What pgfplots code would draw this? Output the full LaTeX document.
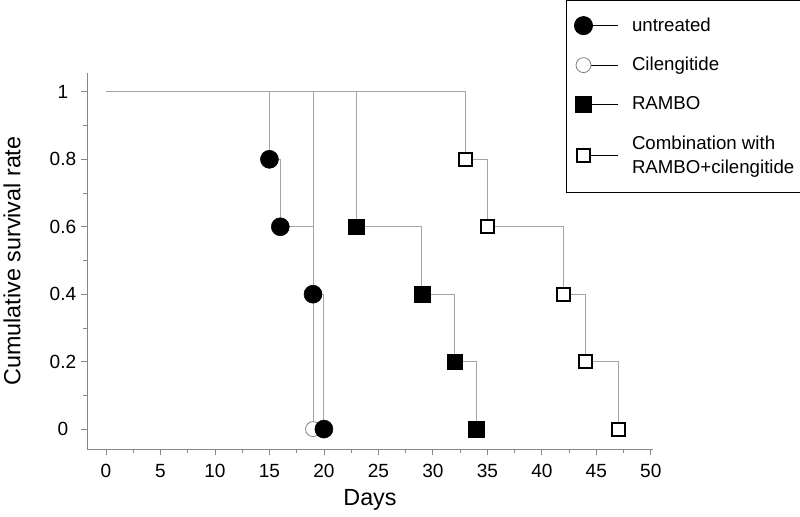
\documentclass[border=0pt]{standalone}
\usepackage{fontspec}
\setmainfont{Liberation Sans}
\usepackage{pgfplots}
\pgfplotsset{compat=1.18}
\usetikzlibrary{calc}
\definecolor{linegray}{RGB}{165,165,165}
\definecolor{axgray}{RGB}{135,135,135}
\begin{document}
\begin{tikzpicture}
\begin{axis}[
  name=ax,
  scale only axis, width=424.5pt, height=282pt,
  xmin=-1.74, xmax=50.2, ymin=-0.059, ymax=1.056,
  axis x line*=bottom, axis y line*=left,
  axis line style={axgray, line width=0.6pt},
  every tick/.style={axgray, line width=0.6pt},
  tick align=outside,
  major tick length=4.5pt, minor tick length=3pt,
  xtick={0,5,10,15,20,25,30,35,40,45,50}, minor x tick num=1,
  ytick={0,0.2,0.4,0.6,0.8,1}, minor y tick num=1,
  /pgf/number format/assume math mode=true,
  ticklabel style={font=\fontsize{14.3}{16}\selectfont, black},
  xticklabel style={yshift=-3.5pt},
  yticklabel style={anchor=center, xshift=-13.5pt},
  xlabel={Days}, ylabel={Cumulative survival rate},
  label style={font=\fontsize{17.5}{20}\selectfont},
  xlabel style={at={(axis description cs:0.5,-0.1356)}, anchor=center},
  ylabel style={at={(axis description cs:-0.1325,0.5)}, anchor=center},
  clip=false,
  legend image code/.code={\draw[black, line width=0.6pt] (0pt,0pt) -- (26pt,0pt); \path (34pt,0pt); \draw[#1] plot coordinates {(0pt,0pt)};},
  legend cell align=left,
  legend style={draw=black, line width=0.75pt, at={(axis description cs:0.8463,1.1941)}, anchor=north west,
    font=\fontsize{14}{18}\selectfont, nodes={align=left, line width=0.6pt}, row sep=14pt,
    inner xsep=6pt, inner ysep=11pt},
]
% step lines
\addplot[const plot, linegray, line width=0.75pt, forget plot] coordinates {(0,1) (19,0)};
\addplot[const plot, linegray, line width=0.75pt, forget plot] coordinates {(0,1) (15,0.8) (16,0.6) (19,0.4) (20,0)};
\addplot[const plot, linegray, line width=0.75pt, forget plot] coordinates {(0,1) (23,0.6) (29,0.4) (32,0.2) (34,0)};
\addplot[const plot, linegray, line width=0.75pt, forget plot] coordinates {(0,1) (33,0.8) (35,0.6) (42,0.4) (44,0.2) (47,0)};
% markers
\addplot[only marks, mark=*, mark size=5.6pt, mark options={draw=gray, fill=white, line width=0.6pt}, forget plot] coordinates {(19,0)};
\addplot[only marks, mark=*, mark size=6.75pt, mark options={draw=black, fill=black}] coordinates {(15,0.8) (16,0.6) (19,0.4) (20,0)};
\addlegendimage{only marks, mark=*, mark size=5.6pt, mark options={draw=gray, fill=white, line width=0.6pt}}
\addplot[only marks, mark=square*, mark size=5.9pt, mark options={draw=black, fill=black}] coordinates {(23,0.6) (29,0.4) (32,0.2) (34,0)};
\addplot[only marks, mark=square*, mark size=4.9pt, mark options={draw=black, fill=white, line width=1.6pt}] coordinates {(33,0.8) (35,0.6) (42,0.4) (44,0.2) (47,0)};
\legend{untreated, Cilengitide, RAMBO, {Combination with\\RAMBO+cilengitide}}
\end{axis}
\pgfresetboundingbox
\path[use as bounding box] ($(ax.south west)+(-65.25pt,-51pt)$) rectangle ($(ax.south west)+(534.75pt,336.75pt)$);
\end{tikzpicture}
\end{document}
